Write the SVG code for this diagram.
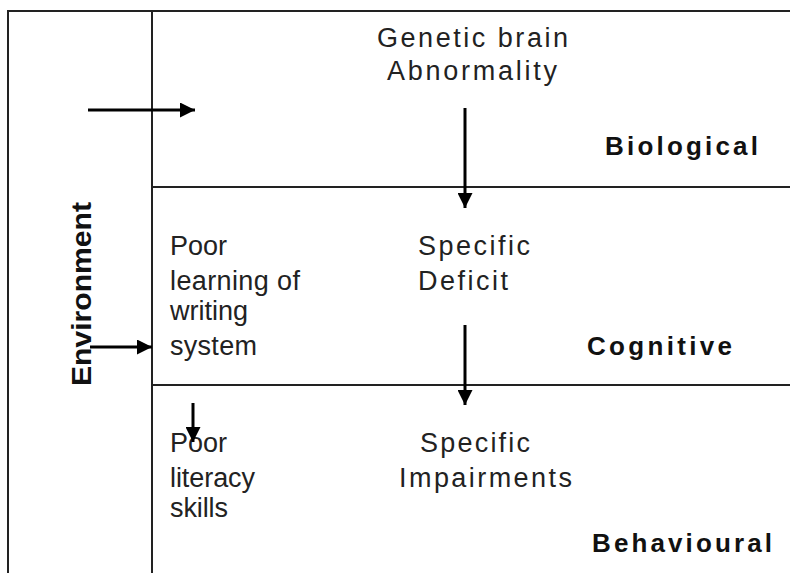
<svg xmlns="http://www.w3.org/2000/svg" width="790" height="577" viewBox="0 0 790 577">
<defs>
<style>
.frame{stroke:#222;stroke-width:2;fill:none}
.conn{stroke:#000;stroke-width:3;fill:none}
.t{font-family:"Liberation Sans",Arial,sans-serif;font-size:27px;fill:#222}
.b{font-family:"Liberation Sans",Arial,sans-serif;font-size:26px;font-weight:bold;fill:#111}
</style>
<marker id="ah" viewBox="0 0 10 10" refX="10" refY="5" markerWidth="5" markerHeight="5" markerUnits="strokeWidth" orient="auto">
<path d="M0,0 L10,5 L0,10 z" fill="#000"/>
</marker>
</defs>
<rect width="790" height="577" fill="#fff"/>
<g id="frame">
<path class="frame" d="M8,573 V11 H790 M152,11 V573 M152,187 H790 M152,385 H790"/>
</g>
<g id="env">
<text class="b" transform="translate(91,386) rotate(-90)" textLength="184" lengthAdjust="spacingAndGlyphs" style="font-size:28px">Environment</text>
</g>
<g id="genetic">
<text class="t" x="377" y="47" textLength="191" lengthAdjust="spacing">Genetic brain</text>
<text class="t" x="387" y="80" textLength="170" lengthAdjust="spacing">Abnormality</text>
</g>
<g id="biological"><text class="b" x="605" y="155" textLength="153" lengthAdjust="spacing">Biological</text></g>
<g id="deficit">
<text class="t" x="418" y="255" textLength="112" lengthAdjust="spacing">Specific</text>
<text class="t" x="418" y="290" textLength="90" lengthAdjust="spacing">Deficit</text>
</g>
<g id="poorlearning">
<text class="t" x="170" y="255" textLength="57" lengthAdjust="spacing">Poor</text>
<text class="t" x="170" y="290" textLength="130" lengthAdjust="spacing">learning of</text>
<text class="t" x="170" y="320" textLength="78" lengthAdjust="spacing">writing</text>
<text class="t" x="170" y="355" textLength="87" lengthAdjust="spacing">system</text>
</g>
<g id="cognitive"><text class="b" x="587" y="355" textLength="145" lengthAdjust="spacing">Cognitive</text></g>
<g id="impairments">
<text class="t" x="420" y="452" textLength="110" lengthAdjust="spacing">Specific</text>
<text class="t" x="399" y="487" textLength="173" lengthAdjust="spacing">Impairments</text>
</g>
<g id="poorliteracy">
<text class="t" x="170" y="452" textLength="57" lengthAdjust="spacing">Poor</text>
<text class="t" x="170" y="487" textLength="85" lengthAdjust="spacing">literacy</text>
<text class="t" x="170" y="517" textLength="58" lengthAdjust="spacing">skills</text>
</g>
<g id="behavioural"><text class="b" x="592" y="552" textLength="180" lengthAdjust="spacing">Behavioural</text></g>
<g id="connectors">
<line class="conn" x1="88" y1="110" x2="195" y2="110" marker-end="url(#ah)"/>
<line class="conn" x1="465" y1="108" x2="465" y2="208" marker-end="url(#ah)"/>
<line class="conn" x1="465" y1="325" x2="465" y2="405" marker-end="url(#ah)"/>
<line class="conn" x1="90" y1="347" x2="152" y2="347" marker-end="url(#ah)"/>
<line class="conn" x1="193" y1="403" x2="193" y2="442" marker-end="url(#ah)"/>
</g>
</svg>
